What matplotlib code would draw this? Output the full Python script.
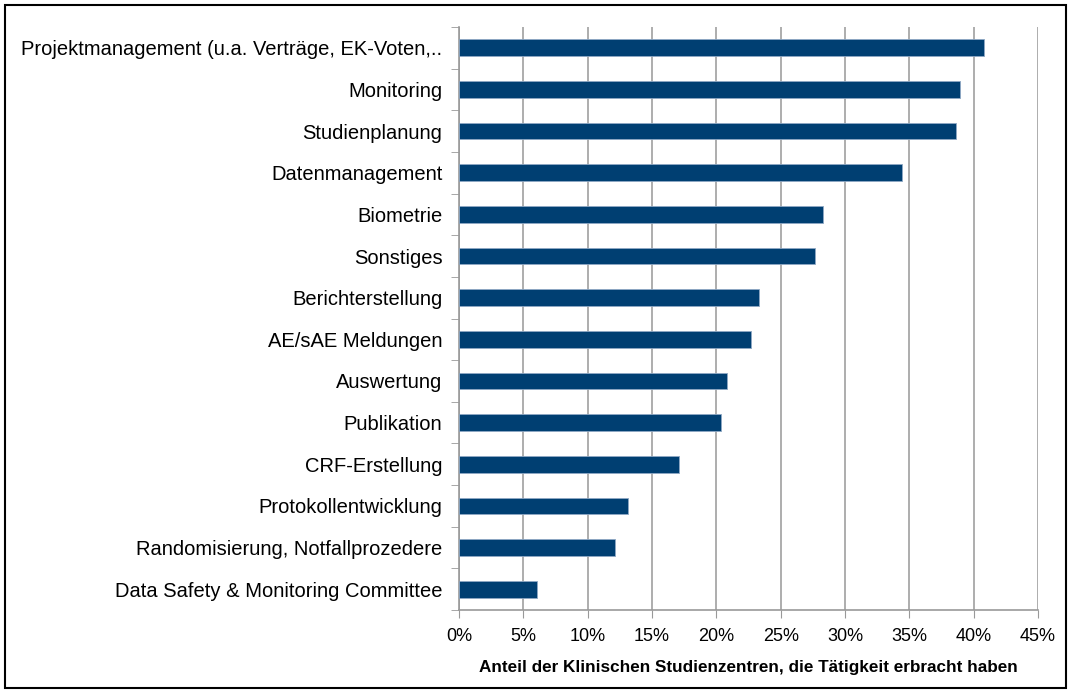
import matplotlib
matplotlib.use("Agg")
import matplotlib.pyplot as plt
from matplotlib.patches import Rectangle
from matplotlib.ticker import FuncFormatter, MultipleLocator

categories = [
    "Projektmanagement (u.a. Verträge, EK-Voten,..",
    "Monitoring",
    "Studienplanung",
    "Datenmanagement",
    "Biometrie",
    "Sonstiges",
    "Berichterstellung",
    "AE/sAE Meldungen",
    "Auswertung",
    "Publikation",
    "CRF-Erstellung",
    "Protokollentwicklung",
    "Randomisierung, Notfallprozedere",
    "Data Safety & Monitoring Committee",
]
values = [40.8, 38.9, 38.6, 34.4, 28.3, 27.7, 23.3, 22.7, 20.8, 20.4, 17.1, 13.1, 12.1, 6.1]
xlabel = "Anteil der Klinischen Studienzentren, die Tätigkeit erbracht haben"

plt.rcParams['font.family'] = ['Liberation Sans', 'DejaVu Sans']

fig = plt.figure(figsize=(10.71, 6.93), dpi=100)
ax = fig.add_axes([459/1071, 1 - 610/693, (1038-459)/1071, (610-27)/693])

n = len(categories)
ypos = list(range(n))[::-1]
ax.barh(ypos, values, height=0.4, color="#003F72", edgecolor="#8FA8C4", linewidth=0.6, zorder=3)

ax.set_xlim(0, 45)
ax.set_ylim(-0.5, n - 0.5)
ax.xaxis.set_major_locator(MultipleLocator(5))
ax.xaxis.set_major_formatter(FuncFormatter(lambda v, p: f"{int(round(v))}%"))
ax.set_yticks(ypos)
ax.set_yticklabels(categories, fontsize=14.5)
ax.tick_params(axis='y', length=0, pad=12)
ax.set_yticks([i - 0.5 for i in range(n + 1)], minor=True)
ax.tick_params(axis='y', which='minor', length=6, color="#999999", direction='out')
ax.tick_params(axis='x', labelsize=13, length=6, color="#999999", direction='out', pad=7)
ax.grid(axis='x', color="#A0A0A0", linewidth=1.2, zorder=0)
for s in ['top', 'right']:
    ax.spines[s].set_visible(False)
for s in ['left', 'bottom']:
    ax.spines[s].set_color("#999999")
    ax.spines[s].set_linewidth(1.2)
ax.set_xlabel(xlabel, fontsize=12.3, fontweight='bold', labelpad=11)

fig.patches.append(Rectangle((5/1071, 5/693), 1 - 10/1071, 1 - 10/693, transform=fig.transFigure,
                             fill=False, edgecolor='black', linewidth=1.5))

fig.savefig("out.png", dpi=100)
